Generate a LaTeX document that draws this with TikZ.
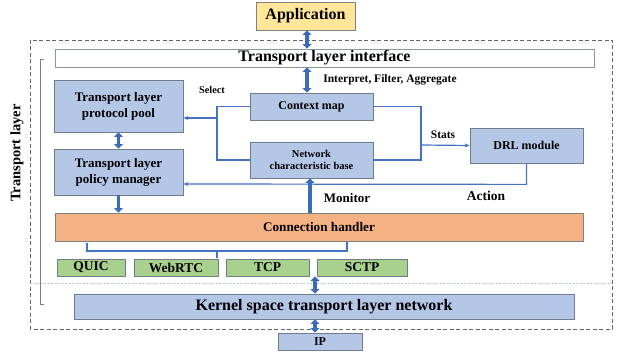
\documentclass[tikz,border=0pt]{standalone}
\usepackage{fontspec}
\setmainfont{Liberation Serif}
\usetikzlibrary{arrows.meta,calc}
\definecolor{boxblue}{HTML}{B4C7E7}
\definecolor{boxedge}{HTML}{6F7C8C}
\definecolor{appyel}{HTML}{FFE699}
\definecolor{chor}{HTML}{F4B183}
\definecolor{grn}{HTML}{A9D18E}
\definecolor{lineblue}{HTML}{4472C4}
\definecolor{arrblue}{HTML}{3B6CB7}
\newcommand{\fs}[1]{\fontsize{#1}{1.2\dimexpr#1pt\relax}\selectfont}
\begin{document}
\begin{tikzpicture}[x=1pt,y=-1pt,
  every node/.style={font=\bfseries, inner sep=0pt},
  bbox/.style={draw=boxedge, line width=0.8pt, fill=boxblue, align=center},
  gbox/.style={draw=boxedge, line width=0.8pt, fill=grn, minimum height=17pt, font=\bfseries\fontsize{13.5}{15}\selectfont},
  thinl/.style={draw=lineblue, line width=1.2pt},
  thina/.style={thinl, -{Stealth[length=5pt,width=4pt]}},
  dbl/.style={draw=arrblue, line width=3.6pt, {Triangle[length=4.5pt,width=9pt]}-{Triangle[length=4.5pt,width=9pt]}},
  sgl/.style={draw=arrblue, line width=3.6pt, -{Triangle[length=4.5pt,width=9pt]}},
  lbl/.style={font=\bfseries\fontsize{11.5}{13}\selectfont}
]
\useasboundingbox (0,0) rectangle (618,352);
% outer dashed frame
\draw[gray!80!black, line width=0.8pt, dash pattern=on 4pt off 2.5pt] (30,40) rectangle (612,329);
% separator
\draw[lineblue!40, line width=0.5pt, dash pattern=on 2pt off 1.5pt] (30,283) -- (612,283);
% left bracket
\draw[gray, line width=0.6pt] (44,59) -- (40,59) -- (40,304) -- (44,304);
\node[rotate=90, font=\bfseries\fontsize{14.5}{16}\selectfont] (tl) at (17,153) {Transport layer};

\node[draw=gray, line width=0.8pt, fill=appyel, minimum width=99pt, minimum height=28pt, font=\bfseries\fontsize{16}{18}\selectfont] (app) at (305.5,16) {Application};
\node[draw=boxedge!80, line width=0.8pt, fill=white, minimum width=539pt, minimum height=18pt, font=\bfseries\fontsize{16}{18}\selectfont] (tli) at (324.5,58) {Transport layer interface};

\node[bbox, minimum width=129pt, minimum height=52pt, font=\bfseries\fontsize{13}{16}\selectfont] (pool) at (118.5,106) {Transport layer\\protocol pool};
\node[bbox, minimum width=129pt, minimum height=46pt, font=\bfseries\fontsize{13}{16}\selectfont] (pm) at (118.5,172) {Transport layer\\policy manager};
\node[bbox, minimum width=123pt, minimum height=27pt, font=\bfseries\fontsize{12}{14}\selectfont] (ctx) at (311.5,106.5) {Context map};
\node[bbox, minimum width=123pt, minimum height=36pt, font=\bfseries\fontsize{10.5}{12.5}\selectfont] (ncb) at (311.5,160) {Network\\characteristic base};
\node[bbox, minimum width=113pt, minimum height=35pt, font=\bfseries\fontsize{12}{14}\selectfont] (drl) at (526.5,145.5) {DRL module};
\node[draw=gray, line width=0.8pt, fill=chor, minimum width=528pt, minimum height=28pt, font=\bfseries\fontsize{13.2}{15}\selectfont] (ch) at (319,227) {Connection handler};

\node[gbox, minimum width=68pt] (quic) at (91,267.5) {QUIC};
\node[gbox, minimum width=84pt] (webrtc) at (176,267.5) {WebRTC};
\node[gbox, minimum width=83pt] (tcp) at (267.5,267.5) {TCP};
\node[gbox, minimum width=90pt] (sctp) at (362,267.5) {SCTP};

\node[bbox, minimum width=500pt, minimum height=25pt, font=\bfseries\fontsize{16}{18}\selectfont] (kern) at (324,306.5) {Kernel space transport layer network};
\node[bbox, minimum width=84pt, minimum height=17pt, font=\bfseries\fontsize{12}{14}\selectfont] (ip) at (320,341.5) {IP};

% labels
\node[lbl, font=\bfseries\fontsize{10.3}{12}\selectfont] (sel) at (212,90) {Select};
\node[lbl] (ifa) at (390,80) {Interpret, Filter, Aggregate};
\node[lbl] (stats) at (443,135) {Stats};
\node[lbl, font=\bfseries\fontsize{13}{15}\selectfont] (mon) at (347,198) {Monitor};
\node[lbl, font=\bfseries\fontsize{13.5}{15}\selectfont] (act) at (486,196) {Action};

% coordinates
\coordinate (jl) at (217,118);
\coordinate (jr) at (421,145);
\coordinate (ax) at (315,0);
\coordinate (ax2) at (307,0);

% thin blue connectors
\draw[thinl] (ctx.west) -| (jl |- ncb.west) -- (ncb.west);
\draw[thina] (jl) -- (jl -| pool.east);
\draw[thinl] (ctx.east) -| (jr |- ncb.east) -- (ncb.east);
\draw[thina] (jr) -- (drl.west);
\draw[thina] (drl.south) -- ($(drl.south)+(0,21)$) -- ($(pm.east)+(0,12)$);

% bracket over protocols
\draw[thinl] (87,243) |- (347,251) -- (347,242);
\coordinate (bt) at (217,258);
\draw[thinl] (bt |- 0,251) -- (bt);

% thick arrows
\draw[dbl] (app.south -| ax2) -- (tli.north -| ax2);
\draw[dbl] (tli.south -| ax2) -- (ctx.north -| ax2);
\draw[dbl] (pool.south) -- (pm.north);
\draw[sgl] (pm.south) -- (pm.south |- ch.north);
\draw[sgl] (ch.north -| 310,0) -- (ncb.south -| 310,0);
\draw[dbl] (sctp.south -| ax) -- (kern.north -| ax);
\draw[dbl] (kern.south -| ax) -- (ip.north -| ax);
\end{tikzpicture}
\end{document}
